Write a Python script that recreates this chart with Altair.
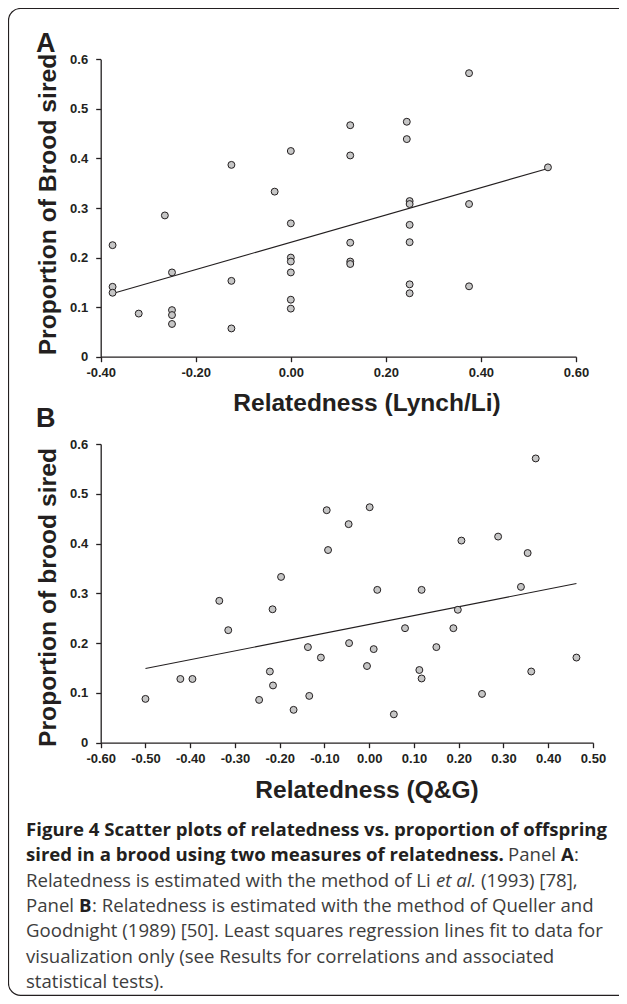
import altair as alt
import pandas as pd

# ---------------- data ----------------
a_rel = [-0.375, -0.375, -0.375, -0.32, -0.265, -0.25, -0.25, -0.25, -0.25,
         -0.125, -0.125, -0.125, -0.034, 0.0, 0.0, 0.0, 0.0, 0.0, 0.0, 0.0,
         0.125, 0.125, 0.125, 0.125, 0.125, 0.244, 0.244, 0.25, 0.25, 0.25,
         0.25, 0.25, 0.25, 0.375, 0.375, 0.375, 0.541]
a_prop = [0.225, 0.141, 0.129, 0.087, 0.285, 0.170, 0.094, 0.084, 0.066,
          0.387, 0.153, 0.057, 0.333, 0.415, 0.269, 0.200, 0.192, 0.170, 0.115, 0.097,
          0.467, 0.406, 0.230, 0.192, 0.187, 0.474, 0.439, 0.314, 0.308, 0.266,
          0.231, 0.146, 0.128, 0.572, 0.308, 0.142, 0.382]

b_rel = [-0.500, -0.422, -0.395, -0.335, -0.315, -0.246, -0.222, -0.216, -0.215,
         -0.197, -0.169, -0.137, -0.134, -0.108, -0.095, -0.092, -0.046, -0.045,
         -0.005, 0.001, 0.010, 0.018, 0.055, 0.080, 0.112, 0.117, 0.117, 0.150,
         0.188, 0.198, 0.206, 0.252, 0.288, 0.339, 0.354, 0.362, 0.372, 0.463]
b_prop = [0.088, 0.128, 0.128, 0.285, 0.226, 0.086, 0.143, 0.268, 0.115,
          0.333, 0.066, 0.192, 0.094, 0.171, 0.467, 0.387, 0.439, 0.200,
          0.154, 0.473, 0.188, 0.307, 0.057, 0.230, 0.146, 0.129, 0.307, 0.192,
          0.230, 0.267, 0.406, 0.098, 0.414, 0.313, 0.381, 0.143, 0.571, 0.171]

a_xticks = [-0.4, -0.2, 0.0, 0.2, 0.4, 0.6]
b_xticks = [-0.6, -0.5, -0.4, -0.3, -0.2, -0.1, 0.0, 0.1, 0.2, 0.3, 0.4, 0.5]
y_ticks = [0.0, 0.1, 0.2, 0.3, 0.4, 0.5, 0.6]

dfA = pd.DataFrame({"r": a_rel, "p": a_prop})
dfB = pd.DataFrame({"r": b_rel, "p": b_prop})

# ---------------- styling ----------------
W, H = 611, 988
AX = "Liberation Sans"
CAP = "Open Sans"
CAPSIZE = 18.6
INK = "#231f20"
GREY_TXT = "#3d3d3d"
FILL = "#c6c6c6"

X_LABEL = "(datum.value < -0.0001 ? '-' : '') + format(abs(datum.value), '.2f')"
Y_LABEL = "datum.value == 0 ? '0' : format(datum.value, '.1f')"


def x_axis(title, offset, values, title_y):
    return alt.Axis(orient="bottom", offset=offset, values=values, labelExpr=X_LABEL,
                    grid=False, domainColor=INK, domainWidth=1.3, tickColor=INK,
                    tickWidth=1.3, tickSize=5, labelFont=AX, labelFontSize=13,
                    labelFontWeight="bold", labelColor=INK, labelPadding=5,
                    labelFlush=False, labelOverlap=False,
                    title=title, titleFont=AX, titleFontSize=24.5, titleFontWeight="bold",
                    titleColor=INK, titleAlign="center", titleBaseline="alphabetic",
                    titleX=358.5, titleY=title_y)


def y_axis(title, title_y):
    return alt.Axis(orient="left", offset=-92.7, values=y_ticks, labelExpr=Y_LABEL,
                    grid=False, domainColor=INK, domainWidth=1.3, tickColor=INK,
                    tickWidth=1.3, tickSize=5, labelFont=AX, labelFontSize=13,
                    labelFontWeight="bold", labelColor=INK, labelPadding=8,
                    labelFlush=False, labelOverlap=False,
                    title=title, titleFont=AX, titleFontSize=24.7, titleFontWeight="bold",
                    titleColor=INK, titleAngle=270, titleAlign="center",
                    titleBaseline="alphabetic", titleX=-44.7, titleY=title_y)


def panel(df, xdom, xrange, ydom, yrange, xax, yax):
    xs = alt.Scale(domain=xdom, range=xrange, zero=False, nice=False)
    ys = alt.Scale(domain=ydom, range=yrange, zero=False, nice=False)
    base = alt.Chart(df)
    line = base.transform_regression("r", "p").mark_line(color=INK, strokeWidth=1.1).encode(
        x=alt.X("r:Q", scale=xs, axis=xax),
        y=alt.Y("p:Q", scale=ys, axis=yax),
    )
    pts = base.mark_circle(fill=FILL, stroke=INK, strokeWidth=1, size=48, opacity=1).encode(
        x=alt.X("r:Q", scale=xs, axis=xax),
        y=alt.Y("p:Q", scale=ys, axis=yax),
    )
    return alt.layer(line, pts)


panelA = panel(dfA, [-0.4, 0.6], [92.7, 568], [0, 0.6], [348.7, 51.3],
               x_axis("Relatedness (Lynch/Li)", -(H - 348.7), a_xticks, 53.3),
               y_axis("Proportion of Brood sired", 196))
panelB = panel(dfB, [-0.6, 0.5], [92.7, 585], [0, 0.6], [734.7, 436],
               x_axis("Relatedness (Q&G)", -(H - 734.7), b_xticks, 55),
               y_axis("Proportion of brood sired", 589))

one = pd.DataFrame({"k": [0]})


def txt(s, x, y, size=CAPSIZE, weight="normal", style="normal", color=GREY_TXT, font=CAP):
    return alt.Chart(one).mark_text(font=font, fontSize=size, fontWeight=weight,
                                    fontStyle=style, color=color, align="left",
                                    baseline="alphabetic").encode(
        x=alt.value(x), y=alt.value(y), text=alt.value(s))


border = alt.Chart(one).mark_rect(fillOpacity=0, stroke=INK, strokeWidth=1.2,
                                  cornerRadius=12).encode(
    x=alt.value(0.5), x2=alt.value(660), y=alt.value(0.5), y2=alt.value(987.3))

texts = [
    txt("A", 28, 43.7, size=27, weight="bold", color=INK, font=AX),
    txt("B", 28, 419, size=27, weight="bold", color=INK, font=AX),
    txt("Figure 4 Scatter plots of relatedness vs. proportion of offspring", 18, 828,
        weight="bold", color=INK),
    txt("sired in a brood using two measures of relatedness.", 18, 853.3,
        weight="bold", color=INK),
    txt("Panel", 500, 853.3),
    txt("A", 553, 853.3, weight="bold", color=INK),
    txt(":", 566, 853.3),
    txt("Relatedness is estimated with the method of Li", 18, 878.6),
    txt("et al.", 428, 878.6, style="italic"),
    txt("(1993) [78],", 473, 878.6),
    txt("Panel", 18, 904),
    txt("B", 71, 904, weight="bold", color=INK),
    txt(": Relatedness is estimated with the method of Queller and", 84, 904),
    txt("Goodnight (1989) [50]. Least squares regression lines fit to data for", 18, 929.2),
    txt("visualization only (see Results for correlations and associated", 18, 954.5),
    txt("statistical tests).", 18, 979.8),
]

chart = alt.layer(border, panelA, panelB, *texts).resolve_scale(
    x="independent", y="independent"
).properties(
    width=W, height=H, padding=0,
    autosize=alt.AutoSizeParams(type="none"),
).configure_view(strokeWidth=0)

chart.save("out.html", embed_options={"renderer": "svg", "actions": False})
